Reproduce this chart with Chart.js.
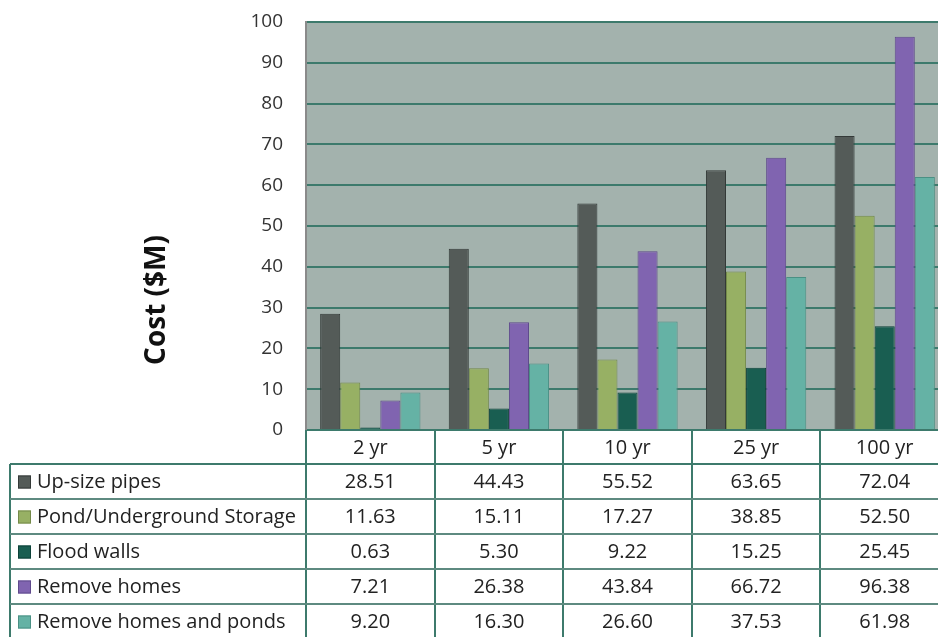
<!DOCTYPE html>
<html lang="en">
<head>
<meta charset="UTF-8">
<title>Flood Mitigation Cost</title>
<style>
    html, body {
        margin: 0;
        padding: 0;
        background: #fff;
        overflow: hidden;
    }
    #costChart {
        display: block;
    }
</style>
</head>
<body>
<canvas id="costChart" width="950" height="637"></canvas>
<script src="https://cdn.jsdelivr.net/npm/chart.js"></script>
<script>
// return periods
const categories = ['2 yr', '5 yr', '10 yr', '25 yr', '100 yr'];

// cost per option ($M)
const upsizePipes      = [28.51, 44.43, 55.52, 63.65, 72.04];
const pondStorage      = [11.63, 15.11, 17.27, 38.85, 52.50];
const floodWalls       = [0.63, 5.30, 9.22, 15.25, 25.45];
const removeHomes      = [7.21, 26.38, 43.84, 66.72, 96.38];
const removeHomesPonds = [9.20, 16.30, 26.60, 37.53, 61.98];

const seriesNames = ['Up-size pipes', 'Pond/Underground Storage', 'Flood walls', 'Remove homes', 'Remove homes and ponds'];
const seriesValues = [upsizePipes, pondStorage, floodWalls, removeHomes, removeHomesPonds];
const fillColors = ['#545b58', '#97b064', '#195e51', '#8064b0', '#65b2a5'];
const edgeColors = ['#343a38', '#748a4a', '#0c4138', '#5f4a8c', '#4a9084'];

const yMax = 100;
const yStep = 10;

const FONT = '"Open Sans", "Noto Sans", Arial, sans-serif';
const TEAL = '#3d7a6c';

// plot background + data table under the bars
const tablePlugin = {
    id: 'tablePlugin',
    beforeDraw(chart) {
        const a = chart.chartArea;
        const ctx = chart.ctx;
        ctx.save();
        ctx.fillStyle = '#a3b2ad';
        ctx.fillRect(a.left, a.top, a.right - a.left, a.bottom - a.top);
        ctx.restore();
    },
    afterDraw(chart) {
        const ctx = chart.ctx;
        const a = chart.chartArea;
        const xs = chart.scales.x;
        const colW = (a.right - a.left) / categories.length;
        const headH = 34, rowH = 35;
        const tableLeft = 10;
        const bodyTop = a.bottom + headH;
        const bottom = chart.height + 20;

        ctx.save();
        ctx.lineWidth = 2;
        ctx.strokeStyle = TEAL;

        // column dividers
        for (let i = 0; i < categories.length; i++) {
            const x = Math.round(xs.getPixelForValue(i) - colW / 2);
            ctx.beginPath();
            ctx.moveTo(x, a.bottom);
            ctx.lineTo(x, bottom);
            ctx.stroke();
        }
        // left border of legend column
        ctx.beginPath();
        ctx.moveTo(tableLeft, bodyTop);
        ctx.lineTo(tableLeft, bottom);
        ctx.stroke();
        // row lines
        for (let r = 0; r < seriesNames.length; r++) {
            const y = bodyTop + r * rowH;
            ctx.strokeStyle = r === 0 ? TEAL : '#5e8a80';
            ctx.beginPath();
            ctx.moveTo(tableLeft, y);
            ctx.lineTo(chart.width, y);
            ctx.stroke();
        }

        ctx.fillStyle = '#222';
        ctx.textBaseline = 'middle';
        ctx.textAlign = 'center';
        ctx.font = '20px ' + FONT;
        categories.forEach((c, i) => {
            ctx.fillText(c, xs.getPixelForValue(i), a.bottom + headH / 2 + 1);
        });

        seriesNames.forEach((name, r) => {
            const cy = bodyTop + r * rowH + rowH / 2 + 1;
            // legend key
            ctx.fillStyle = fillColors[r];
            ctx.fillRect(18, cy - 7, 13, 13);
            ctx.lineWidth = 1;
            ctx.strokeStyle = edgeColors[r];
            ctx.strokeRect(18.5, cy - 6.5, 12, 12);

            ctx.fillStyle = '#222';
            ctx.textAlign = 'left';
            ctx.fillText(name, 37, cy);
            ctx.textAlign = 'center';
            seriesValues[r].forEach((v, i) => {
                ctx.fillText(v.toFixed(2), xs.getPixelForValue(i), cy);
            });
        });

        // axis title
        ctx.translate(157, 300);
        ctx.rotate(-Math.PI / 2);
        ctx.font = 'bold 28px ' + FONT;
        ctx.fillStyle = '#111';
        ctx.textAlign = 'center';
        ctx.fillText('Cost ($M)', 0, 0);
        ctx.restore();
    }
};

new Chart(document.getElementById('costChart').getContext('2d'), {
    type: 'bar',
    data: {
        labels: categories,
        datasets: seriesNames.map((name, i) => ({
            label: name,
            data: seriesValues[i],
            backgroundColor: fillColors[i],
            borderColor: edgeColors[i],
            borderWidth: 1,
            categoryPercentage: 0.78,
            barPercentage: 1
        }))
    },
    options: {
        responsive: false,
        animation: false,
        layout: { padding: { top: 22, bottom: 207, left: 0, right: 1 } },
        plugins: {
            legend: { display: false },
            tooltip: { enabled: false }
        },
        scales: {
            x: { display: false },
            y: {
                min: 0,
                max: yMax,
                afterFit(scale) {
                    scale.width = 306;
                    // tick padding would otherwise push the plot top down
                    scale.paddingTop = 0;
                    scale.paddingBottom = 0;
                },
                ticks: {
                    stepSize: yStep / 2,
                    padding: 23,
                    color: '#333',
                    font: { family: FONT, size: 19 },
                    callback: v => (v % yStep === 0 ? v : '')
                },
                grid: {
                    drawTicks: false,
                    color: c => (c.tick.value % yStep === 0 ? TEAL : '#d3d8d5'),
                    lineWidth: c => (c.tick.value % yStep === 0 ? 2 : 1.5)
                },
                border: { color: '#8a8a8a', width: 2 }
            }
        }
    },
    plugins: [tablePlugin]
});
</script>
</body>
</html>
